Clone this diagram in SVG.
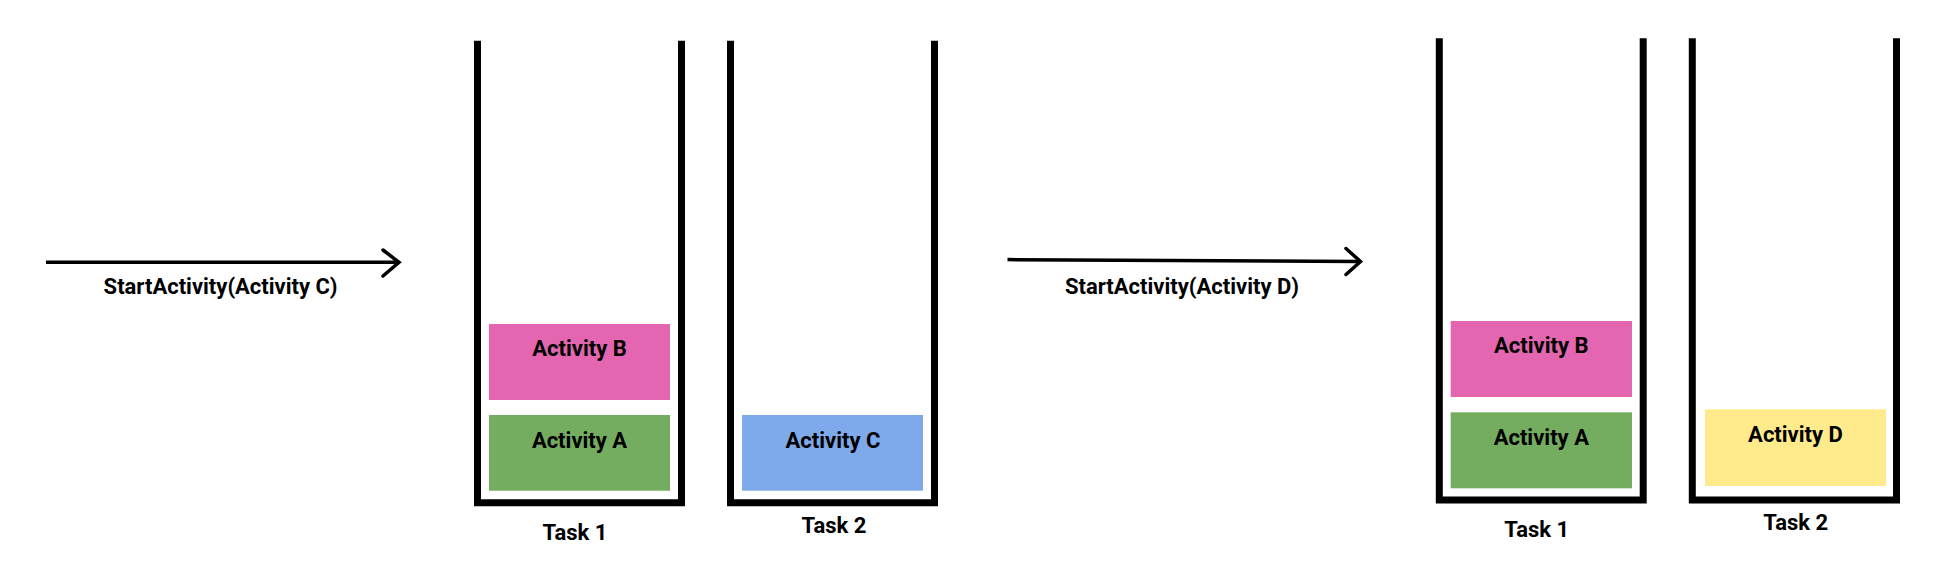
<svg xmlns="http://www.w3.org/2000/svg" width="1942" height="566" viewBox="0 0 1942 566">
<style>
.bg{fill:#ffffff}
.stack{fill:none;stroke:#000000;stroke-width:7;stroke-linejoin:miter;stroke-linecap:butt}
.lbl{font-family:Roboto,"Liberation Sans",sans-serif;font-weight:bold;font-size:22px;fill:#000000;text-anchor:middle}
.conn{fill:none;stroke:#000000;stroke-width:3.5;stroke-linecap:round;stroke-linejoin:miter}
.pink{fill:#E466B0}
.green{fill:#74AD60}
.blue{fill:#7EA9EA}
.yellow{fill:#FFEB8C}
</style>
<rect class="bg" x="0" y="0" width="1942" height="566"/>
<g id="connectors">
  <g id="arrow-c">
    <line class="conn" x1="46" y1="262.3" x2="398" y2="262.3" style="stroke-linecap:butt"/>
    <polyline class="conn" points="383,250 399,262.3 383,276"/>
    <text class="lbl" x="220.5" y="293.5">StartActivity(Activity C)</text>
  </g>
  <g id="arrow-d">
    <line class="conn" x1="1007.5" y1="259.6" x2="1359.5" y2="261.6" style="stroke-linecap:butt"/>
    <polyline class="conn" points="1346,248.5 1360.5,261.5 1346,274.5"/>
    <text class="lbl" x="1182" y="293.5">StartActivity(Activity D)</text>
  </g>
</g>
<g id="left-task1">
  <path class="stack" d="M477.5 40.7 V502.7 H681.5 V40.7"/>
  <text class="lbl" x="575" y="540">Task 1</text>
</g>
<g id="left-task2">
  <path class="stack" d="M730.5 40.7 V502.7 H934.5 V40.7"/>
  <text class="lbl" x="834" y="533.3">Task 2</text>
</g>
<g id="left-activity-b">
  <rect class="pink" x="489" y="324" width="181" height="76"/>
  <text class="lbl" x="579.5" y="356">Activity B</text>
</g>
<g id="left-activity-a">
  <rect class="green" x="489" y="415" width="181" height="75.7"/>
  <text class="lbl" x="579.5" y="447.7">Activity A</text>
</g>
<g id="left-activity-c">
  <rect class="blue" x="742" y="415" width="181" height="75.7"/>
  <text class="lbl" x="833" y="447.7">Activity C</text>
</g>
<g id="right-task1">
  <path class="stack" d="M1439.3 38.3 V500 H1643.2 V38.3"/>
  <text class="lbl" x="1536.7" y="536.7">Task 1</text>
</g>
<g id="right-task2">
  <path class="stack" d="M1692.3 38.3 V500 H1896.5 V38.3"/>
  <text class="lbl" x="1795.7" y="530">Task 2</text>
</g>
<g id="right-activity-b">
  <rect class="pink" x="1450.7" y="321" width="181.3" height="76"/>
  <text class="lbl" x="1541.3" y="353.3">Activity B</text>
</g>
<g id="right-activity-a">
  <rect class="green" x="1450.7" y="412.3" width="181.3" height="76"/>
  <text class="lbl" x="1541.3" y="445">Activity A</text>
</g>
<g id="right-activity-d">
  <rect class="yellow" x="1705" y="409.3" width="181" height="76.7"/>
  <text class="lbl" x="1795.5" y="442.3">Activity D</text>
</g>
</svg>
